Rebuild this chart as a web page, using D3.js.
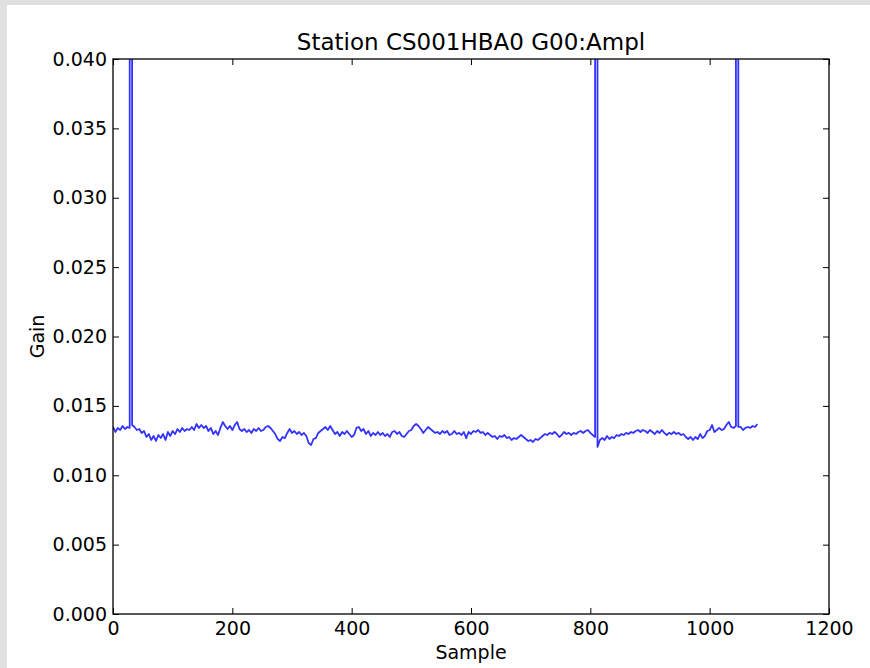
<!DOCTYPE html>
<html>
<head>
<meta charset="utf-8">
<script src="https://cdn.jsdelivr.net/npm/d3@7"></script>
<style>
  html, body { margin: 0; padding: 0; background: #e0e0e0; }
  svg { display: block; }
  text { font-family: "DejaVu Sans", sans-serif; fill: #000; }
</style>
</head>
<body>
<svg id="chart" width="870" height="668"></svg>
<script>
// ---- data ----
const titleText = "Station CS001HBA0 G00:Ampl";
const xLabel = "Sample";
const yLabel = "Gain";
const xTicks = [0, 200, 400, 600, 800, 1000, 1200];
const yTicks = [0.000, 0.005, 0.010, 0.015, 0.020, 0.025, 0.030, 0.035, 0.040];
const xDomain = [0, 1200];
const yDomain = [0, 0.040];
const sampleStep = 4; // gain[i] is the value at sample i*sampleStep
const gain = [
  0.01348, 0.01312, 0.01341, 0.01326, 0.01355, 0.01333, 0.01348, 0.01341, 0.01362, 0.01348,
  0.01326, 0.01333, 0.01305, 0.01319, 0.01276, 0.01297, 0.01254, 0.01283, 0.01247, 0.01290,
  0.01268, 0.01297, 0.01254, 0.01312, 0.01283, 0.01319, 0.01297, 0.01333, 0.01312, 0.01341,
  0.01319, 0.01333, 0.01326, 0.01348, 0.01326, 0.01369, 0.01341, 0.01362, 0.01341, 0.01355,
  0.01319, 0.01341, 0.01297, 0.01319, 0.01290, 0.01341, 0.01384, 0.01355, 0.01333, 0.01355,
  0.01326, 0.01362, 0.01384, 0.01333, 0.01319, 0.01333, 0.01312, 0.01326, 0.01305, 0.01333,
  0.01319, 0.01341, 0.01319, 0.01326, 0.01348, 0.01355, 0.01341, 0.01319, 0.01297, 0.01261,
  0.01247, 0.01276, 0.01268, 0.01305, 0.01333, 0.01305, 0.01319, 0.01297, 0.01312, 0.01290,
  0.01305, 0.01283, 0.01232, 0.01218, 0.01261, 0.01268, 0.01305, 0.01319, 0.01333, 0.01348,
  0.01326, 0.01355, 0.01326, 0.01297, 0.01312, 0.01283, 0.01312, 0.01297, 0.01319, 0.01297,
  0.01276, 0.01290, 0.01341, 0.01348, 0.01319, 0.01333, 0.01297, 0.01319, 0.01283, 0.01305,
  0.01290, 0.01312, 0.01290, 0.01305, 0.01283, 0.01297, 0.01276, 0.01312, 0.01319, 0.01297,
  0.01312, 0.01283, 0.01276, 0.01297, 0.01319, 0.01326, 0.01355, 0.01369, 0.01355, 0.01333,
  0.01305, 0.01326, 0.01348, 0.01333, 0.01319, 0.01305, 0.01312, 0.01297, 0.01319, 0.01305,
  0.01319, 0.01290, 0.01297, 0.01319, 0.01297, 0.01305, 0.01290, 0.01312, 0.01268, 0.01312,
  0.01297, 0.01319, 0.01312, 0.01326, 0.01305, 0.01312, 0.01290, 0.01305, 0.01290, 0.01276,
  0.01283, 0.01261, 0.01283, 0.01276, 0.01290, 0.01268, 0.01276, 0.01254, 0.01268, 0.01261,
  0.01276, 0.01290, 0.01276, 0.01261, 0.01247, 0.01254, 0.01240, 0.01261, 0.01254, 0.01268,
  0.01283, 0.01297, 0.01290, 0.01305, 0.01297, 0.01312, 0.01297, 0.01276, 0.01290, 0.01312,
  0.01297, 0.01305, 0.01290, 0.01305, 0.01297, 0.01312, 0.01319, 0.01305, 0.01319, 0.01326,
  0.01305, 0.01290, 0.01276, 0.01204, 0.01254, 0.01268, 0.01254, 0.01283, 0.01261, 0.01276,
  0.01268, 0.01290, 0.01283, 0.01297, 0.01290, 0.01305, 0.01297, 0.01312, 0.01305, 0.01319,
  0.01326, 0.01312, 0.01326, 0.01319, 0.01305, 0.01326, 0.01312, 0.01297, 0.01319, 0.01305,
  0.01326, 0.01305, 0.01290, 0.01305, 0.01297, 0.01312, 0.01297, 0.01305, 0.01290, 0.01297,
  0.01276, 0.01261, 0.01276, 0.01254, 0.01276, 0.01261, 0.01297, 0.01268, 0.01283, 0.01319,
  0.01326, 0.01362, 0.01312, 0.01326, 0.01341, 0.01326, 0.01333, 0.01362, 0.01384, 0.01348,
  0.01341, 0.01355, 0.01348, 0.01348, 0.01326, 0.01341, 0.01348, 0.01341, 0.01355, 0.01348,
  0.01369
];
// [up, down] samples where the gain jumps far above the plotted range
const spikeRanges = [[28, 32], [808, 812], [1044, 1048]];
const spikeLevel = 0.5;

// ---- layout ----
const W = 870, H = 668;
const plot = { left: 113, right: 829, top: 59, bottom: 614 };

const svg = d3.select("#chart");
svg.append("rect").attr("x", 7).attr("y", 5).attr("width", W - 7).attr("height", H - 5).attr("fill", "#ffffff");

const x = d3.scaleLinear().domain(xDomain).range([plot.left, plot.right]);
const y = d3.scaleLinear().domain(yDomain).range([plot.bottom, plot.top]);

// build series: base samples, with vertical jumps to the spike level
const pts = [];
gain.forEach((g, i) => {
  const s = i * sampleStep;
  const inside = spikeRanges.some(([a, b]) => s > a && s < b);
  if (inside) return;
  const endsHere = spikeRanges.find(([a, b]) => b === s);
  if (endsHere) pts.push({ s, g: spikeLevel });
  pts.push({ s, g });
  const startsHere = spikeRanges.find(([a, b]) => a === s);
  if (startsHere) pts.push({ s, g: spikeLevel });
});

svg.append("clipPath").attr("id", "clip")
  .append("rect")
  .attr("x", plot.left).attr("y", plot.top)
  .attr("width", plot.right - plot.left).attr("height", plot.bottom - plot.top);

const line = d3.line().x(d => x(d.s)).y(d => y(d.g));
svg.append("path")
  .datum(pts)
  .attr("clip-path", "url(#clip)")
  .attr("fill", "none")
  .attr("stroke", "#3333ff")
  .attr("stroke-width", 1.8)
  .attr("stroke-linejoin", "round")
  .attr("d", line);

// axes with inward ticks on all four sides
const tickLen = 6;
const fmtY = d3.format(".3f");
const axB = d3.axisBottom(x).tickValues(xTicks).tickSize(-tickLen).tickPadding(8).tickFormat(d3.format("d"));
const axT = d3.axisTop(x).tickValues(xTicks).tickSize(-tickLen).tickFormat("");
const axL = d3.axisLeft(y).tickValues(yTicks).tickSize(-tickLen).tickPadding(6).tickFormat(fmtY);
const axR = d3.axisRight(y).tickValues(yTicks).tickSize(-tickLen).tickFormat("");

function styleAxis(g) {
  g.select(".domain").remove();
  g.selectAll(".tick line").attr("stroke", "#000").attr("stroke-width", 1);
  g.selectAll(".tick text").attr("font-family", "DejaVu Sans").attr("font-size", 19).attr("fill", "#000");
}
svg.append("g").attr("transform", `translate(0,${plot.bottom})`).call(axB).call(styleAxis);
svg.append("g").attr("transform", `translate(0,${plot.top})`).call(axT).call(styleAxis);
svg.append("g").attr("transform", `translate(${plot.left},0)`).call(axL).call(styleAxis);
svg.append("g").attr("transform", `translate(${plot.right},0)`).call(axR).call(styleAxis);

// frame
svg.append("rect")
  .attr("x", plot.left).attr("y", plot.top)
  .attr("width", plot.right - plot.left).attr("height", plot.bottom - plot.top)
  .attr("fill", "none").attr("stroke", "#000").attr("stroke-width", 1.3);

// title and labels
svg.append("text")
  .attr("x", (plot.left + plot.right) / 2).attr("y", 50)
  .attr("text-anchor", "middle").attr("font-size", 23)
  .text(titleText);
svg.append("text")
  .attr("x", (plot.left + plot.right) / 2).attr("y", 659)
  .attr("text-anchor", "middle").attr("font-size", 19)
  .text(xLabel);
svg.append("text")
  .attr("transform", `translate(44,${(plot.top + plot.bottom) / 2}) rotate(-90)`)
  .attr("text-anchor", "middle").attr("font-size", 19)
  .text(yLabel);
</script>
</body>
</html>
